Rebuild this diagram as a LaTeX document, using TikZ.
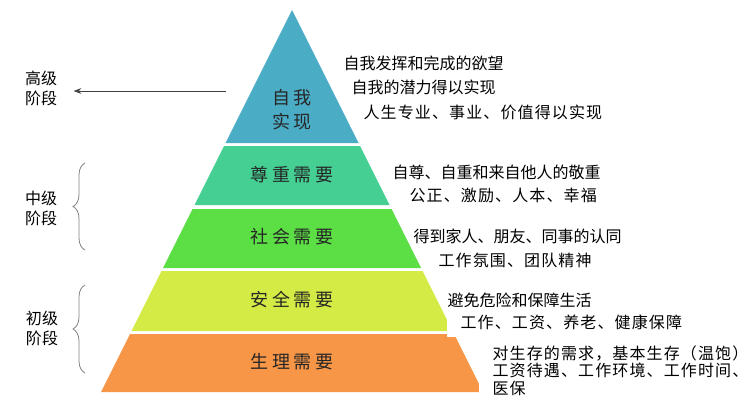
\documentclass[tikz,border=0pt]{standalone}
\usepackage{fontspec}
\setmainfont{Noto Sans CJK SC}
\usepackage{tikz}
\usetikzlibrary{arrows.meta, positioning, decorations.pathreplacing}

\definecolor{selfblue}{HTML}{4BACC6}
\definecolor{esteemteal}{HTML}{45CF93}
\definecolor{socialgreen}{HTML}{5CDE45}
\definecolor{safeyellow}{HTML}{D4EA45}
\definecolor{bodyorange}{HTML}{F79646}

\begin{document}
\begin{tikzpicture}[
    x=0.75pt, y=-0.75pt,
    level/.style={font=\fontsize{13.5}{18}\selectfont\addfontfeatures{LetterSpace=20}, text=black!85, align=center},
    desc/.style={font=\fontsize{12}{13}\selectfont, anchor=west, inner xsep=10pt, inner ysep=6pt, align=left},
    wide/.style={font=\fontsize{12}{13}\selectfont\addfontfeatures{LetterSpace=7}},
    cover/.style={fill=white},
    stage/.style={font=\fontsize{12}{15}\selectfont, align=center},
    arrow/.style={-{Stealth[length=2mm]}, black!75},
    bracket/.style={decorate, decoration={brace, amplitude=9pt}, gray, semithick}
]
\useasboundingbox (0,0) rectangle (748,406);

% Pyramid layers
\fill[selfblue] (292,10) -- (358.5,143) -- (225.5,143) -- cycle;
\fill[esteemteal] (224,146) -- (360,146) -- (389.5,205) -- (194.5,205) -- cycle;
\fill[socialgreen] (192.5,209) -- (391.5,209) -- (421,268) -- (163,268) -- cycle;
\fill[safeyellow] (161.5,271) -- (422.5,271) -- (452.5,331) -- (131.5,331) -- cycle;
\fill[bodyorange] (130,334) -- (454,334) -- (483,392) -- (101,392) -- cycle;

% Layer labels
\node[level] (selfreal) at (292,110) {自我\\实现};
\node[level] (esteem) at (292,175) {尊重需要};
\node[level] (social) at (292,237) {社会需要};
\node[level] (safety) at (292,300) {安全需要};
\node[level] (body) at (292,362) {生理需要};

% Descriptions
\node[desc] (selfa) at (330,63) {自我发挥和完成的欲望};
\node[desc] (selfb) at (338,87) {自我的潜力得以实现};
\node[desc, wide, cover] (selfc) at (350,112) {人生专业、事业、价值得以实现};
\node[desc] (esteema) at (379,172) {自尊、自重和来自他人的敬重};
\node[desc, wide] (esteemb) at (396,195) {公正、激励、人本、幸福};
\node[desc] (sociala) at (400,236) {得到家人、朋友、同事的认同};
\node[desc, wide] (socialb) at (425,260) {工作氛围、团队精神};
\node[desc] (safetya) at (434,300) {避免危险和保障生活};
\node[desc, wide, cover] (safetyb) at (447,322) {工作、工资、养老、健康保障};
\node[desc, wide, cover, inner ysep=3pt] (bodya) at (479,370.5) {对生存的需求，基本生存（温饱）\\工资待遇、工作环境、工作时间、\\医保};

% Stages
\node[stage] (high) at (41,88) {高级\\阶段};
\node[stage] (mid) at (41,208) {中级\\阶段};
\node[stage] (low) at (42,328) {初级\\阶段};

\coordinate (hightail) at (226,91);
\draw[arrow, shorten >=9pt] (hightail) -- (high.east |- hightail);

\coordinate (midbot) at (85,250);
\coordinate (midtop) at (85,163);
\draw[bracket] (midbot) -- (midtop);
\coordinate (lowbot) at (85,373);
\coordinate (lowtop) at (85,285);
\draw[bracket] (lowbot) -- (lowtop);

\end{tikzpicture}
\end{document}
